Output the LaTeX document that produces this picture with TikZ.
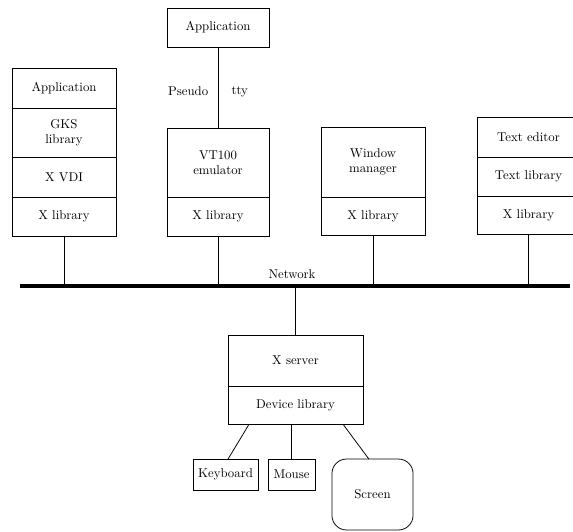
\documentclass[tikz,border=0pt]{standalone}
\usepackage{tikz}
\usetikzlibrary{positioning}

\begin{document}
\begin{tikzpicture}[x=0.0275cm,
                    y=-0.0275cm,
                    line width=0.6pt,
                    node distance=0pt,
                    layer/.style={rectangle,draw,align=center,inner sep=0pt,outer sep=0pt,minimum width=2.86cm},
                    dev/.style={rectangle,draw,inner sep=0pt,outer sep=0pt,minimum height=0.85cm}
                    ]
  \useasboundingbox (0,0) rectangle (573,531);
  \clip (0,0) rectangle (573,531);
  % graphics client
  \node[layer,minimum height=1.1cm,anchor=north] (app1) at (64,68) {Application};
  \node[layer,minimum height=1.35cm] (gks) [below=of app1] {GKS\\library};
  \node[layer,minimum height=1.1cm] (vdi) [below=of gks] {X VDI};
  \node[layer,minimum height=1.07cm] (xlib1) [below=of vdi] {X library};
  % terminal emulator
  \node[layer,minimum width=2.8cm,minimum height=1.07cm,anchor=north] (app2) at (218,8) {Application};
  \node[layer,minimum width=2.8cm,minimum height=1.9cm,anchor=north] (vt) at (218,128) {VT100\\emulator};
  \node[layer,minimum width=2.8cm,minimum height=1.07cm] (xlib2) [below=of vt] {X library};
  % window manager
  \node[layer,minimum height=1.93cm,anchor=north] (wm) at (373,127) {Window\\manager};
  \node[layer,minimum height=1.05cm] (xlib3) [below=of wm] {X library};
  % text editor
  \node[layer,minimum width=2.83cm,minimum height=1.1cm,anchor=north] (ed) at (528.5,117) {Text editor};
  \node[layer,minimum width=2.83cm,minimum height=1.07cm] (txtlib) [below=of ed] {Text library};
  \node[layer,minimum width=2.83cm,minimum height=1.05cm] (xlib4) [below=of txtlib] {X library};
  % server side
  \node[layer,minimum width=3.71cm,minimum height=1.4cm,anchor=north] (xsrv) at (295.5,335) {X server};
  \node[layer,minimum width=3.71cm,minimum height=1.05cm] (devlib) [below=of xsrv] {Device library};
  \node[dev,minimum width=1.79cm] (kbd) at (225.5,474.5) {Keyboard};
  \node[dev,minimum width=1.29cm] (mouse) at (291.5,474.5) {Mouse};
  \node[dev,minimum width=2.23cm,minimum height=1.95cm,rounded corners=0.4cm] (scr) at (372.5,494.5) {Screen};
  % network
  \coordinate (busL) at (20,286);
  \coordinate (busR) at (570,286);
  \draw[line width=3pt] (busL) -- (busR);
  \node (net) at (292,274) {Network};

  \draw (app2) -- node[left=4pt,pos=0.55] {Pseudo} node[right=7pt,pos=0.55] {tty} (vt);
  \draw (xlib1) -- (xlib1 |- busL);
  \draw (xlib2) -- (xlib2 |- busL);
  \draw (xlib3) -- (xlib3 |- busL);
  \draw (xlib4) -- (xlib4 |- busL);
  \draw (xsrv) -- (xsrv |- busL);
  \draw ([xshift=0.58cm]devlib.south west) -- ([xshift=0.07cm]kbd.north);
  \draw (mouse) -- (mouse |- devlib.south);
  \draw ([xshift=-0.55cm]devlib.south east) -- ([xshift=-0.1cm]scr.north);
\end{tikzpicture}
\end{document}
